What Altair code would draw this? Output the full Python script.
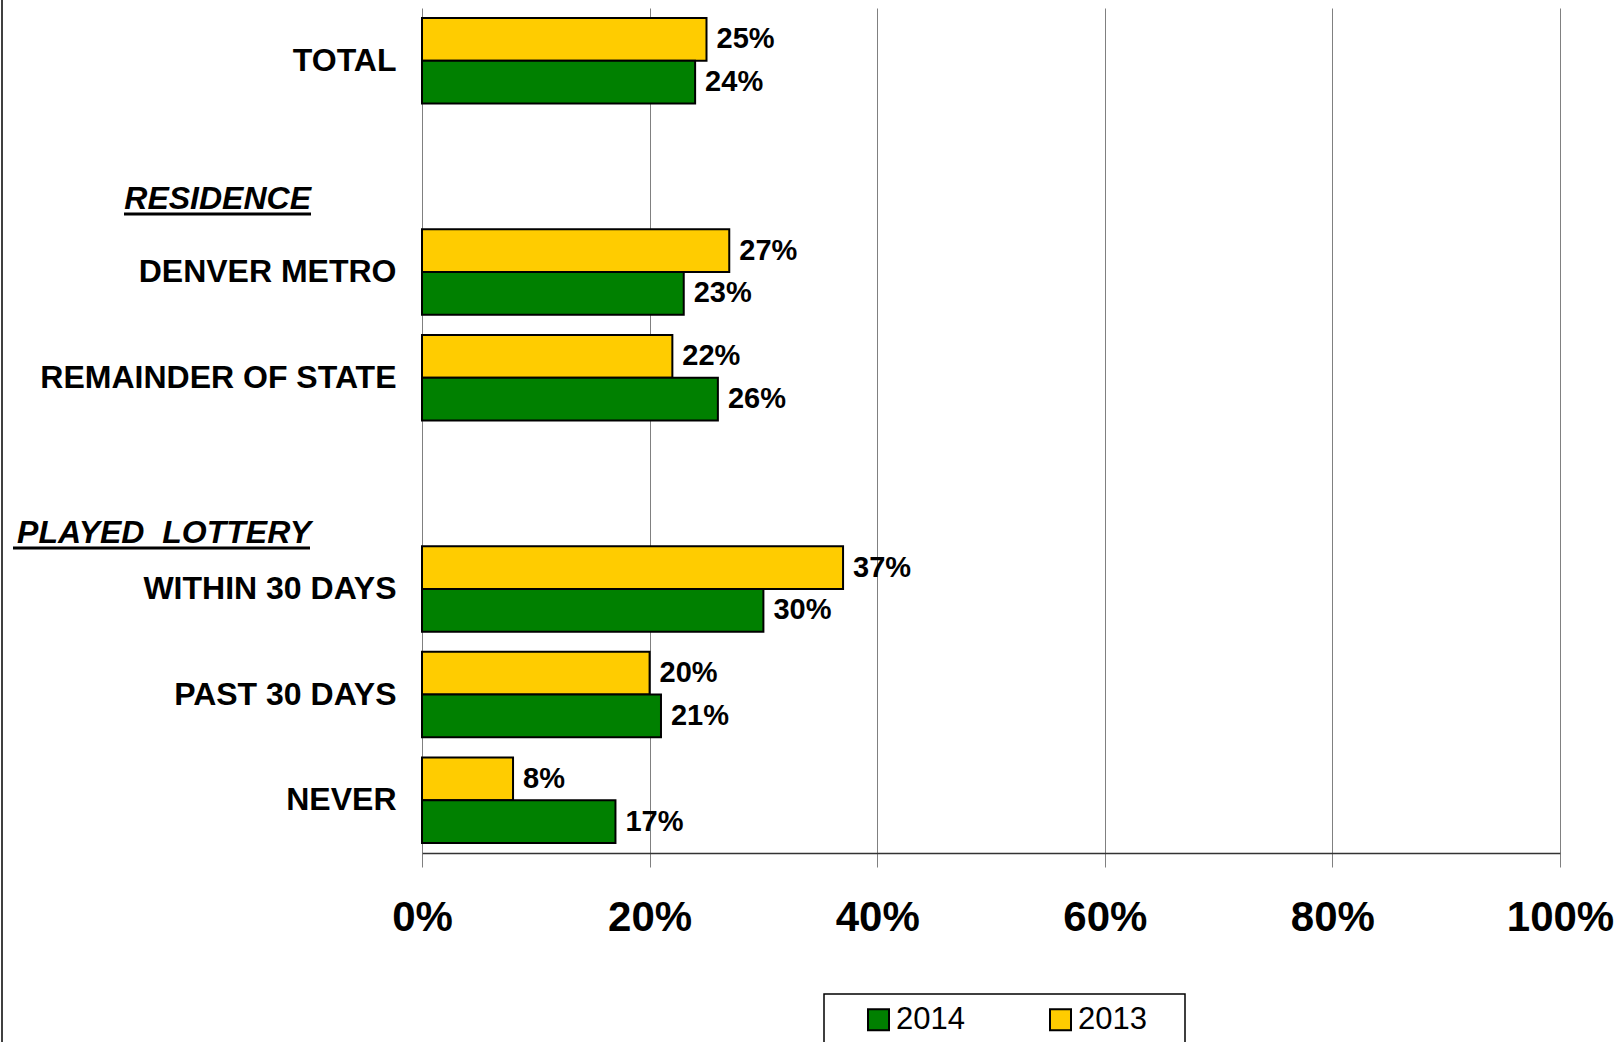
import altair as alt
import pandas as pd

# Row slots on the vertical axis; the blank slots leave room for section headers
groups = ["TOTAL", " ", "DENVER METRO", "REMAINDER OF STATE", "  ",
          "WITHIN 30 DAYS", "PAST 30 DAYS", "NEVER"]
rows = ["TOTAL", "DENVER METRO", "REMAINDER OF STATE",
        "WITHIN 30 DAYS", "PAST 30 DAYS", "NEVER"]
share_2013 = [25, 27, 22, 37, 20, 8]
share_2014 = [24, 23, 26, 30, 21, 17]
years = ["2014", "2013"]
year_colors = ["#008000", "#FFCC00"]
tick_values = [0, 20, 40, 60, 80, 100]
headers = ["RESIDENCE", "PLAYED\u00a0 LOTTERY"]

FONT = "Liberation Sans"

records = []
for r, a, b in zip(rows, share_2013, share_2014):
    records.append({"group": r, "year": "2013", "share": a, "label": f"{a}%"})
    records.append({"group": r, "year": "2014", "share": b, "label": f"{b}%"})
df = pd.DataFrame(records)

y_enc = alt.Y(
    "group:N",
    scale=alt.Scale(domain=groups, paddingInner=0, paddingOuter=0),
    title=None,
    axis=alt.Axis(
        labelFont=FONT, labelFontSize=32, labelFontWeight="bold",
        labelColor="black", labelPadding=26, labelLimit=500,
        ticks=False, domain=False, grid=False,
    ),
)
yoff_enc = alt.YOffset(
    "year:N",
    scale=alt.Scale(domain=["2013", "2014"], paddingInner=0, paddingOuter=0.237),
)
x_enc = alt.X(
    "share:Q",
    scale=alt.Scale(domain=[0, 100], nice=False),
    title=None,
    axis=alt.Axis(
        values=tick_values, labelExpr="datum.value + '%'",
        labelFont=FONT, labelFontSize=42, labelFontWeight="bold",
        labelColor="black", labelPadding=30, labelFlush=False,
        tickSize=14, tickColor="#808080", tickWidth=1,
        grid=True, gridColor="#808080", gridWidth=1,
        domainColor="#333333", domainWidth=1.5,
    ),
)

bars = alt.Chart(df).mark_bar(stroke="black", strokeWidth=2).encode(
    x=x_enc,
    y=y_enc,
    yOffset=yoff_enc,
    color=alt.Color(
        "year:N",
        scale=alt.Scale(domain=years, range=year_colors),
        legend=alt.Legend(
            title=None, orient="none", direction="horizontal",
            legendX=441, legendY=996, padding=0,
            symbolType="square", symbolSize=441,
            symbolStrokeColor="black", symbolStrokeWidth=2,
            labelFont=FONT, labelFontSize=31, labelColor="black",
            labelOffset=2, columnPadding=80,
        ),
    ),
)

values = alt.Chart(df).mark_text(
    align="left", baseline="middle", dx=10,
    font=FONT, fontSize=29, fontWeight="bold", color="black",
).encode(
    x="share:Q",
    y=alt.Y("group:N", scale=alt.Scale(domain=groups)),
    yOffset=yoff_enc,
    text="label:N",
)

head_style = dict(align="right", baseline="middle", font=FONT, fontSize=32,
                  fontWeight="bold", fontStyle="italic", color="black")
one = pd.DataFrame({"k": [0]})

residence = alt.Chart(one).mark_text(text=headers[0], **head_style).encode(
    x=alt.value(-111), y=alt.value(191)
)
lottery = alt.Chart(one).mark_text(text=headers[1], **head_style).encode(
    x=alt.value(-111), y=alt.value(525)
)
underline_res = alt.Chart(one).mark_rule(color="black", strokeWidth=3).encode(
    x=alt.value(-298), x2=alt.value(-111), y=alt.value(206)
)
underline_lot = alt.Chart(one).mark_rule(color="black", strokeWidth=3).encode(
    x=alt.value(-409), x2=alt.value(-112), y=alt.value(540)
)

legend_box = alt.Chart(one).mark_rect(
    fillOpacity=0, stroke="black", strokeWidth=1.5
).encode(
    x=alt.value(402), x2=alt.value(763), y=alt.value(986), y2=alt.value(1060)
)
left_border = alt.Chart(one).mark_rule(color="black", strokeWidth=1.5).encode(
    x=alt.value(-420), y=alt.value(-8), y2=alt.value(1034)
)

chart = alt.layer(
    bars, values, residence, lottery, underline_res, underline_lot,
    legend_box, left_border,
).properties(
    width=1138,
    height=845,
    padding={"left": 422, "top": 8, "right": 64, "bottom": 189},
    autosize=alt.AutoSizeParams(type="none"),
    background="white",
).configure_view(stroke=None)

chart.save("out.html", embed_options={"renderer": "svg", "actions": False})
